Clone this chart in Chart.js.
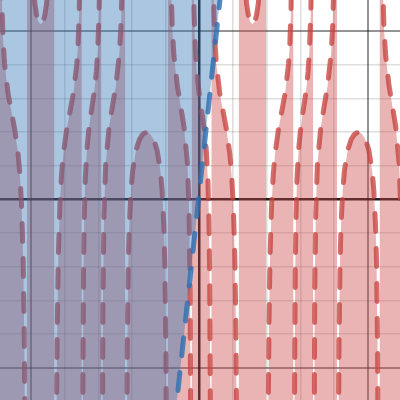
<!DOCTYPE html>
<html>
<head>
<meta charset="utf-8">
<script src="https://cdn.jsdelivr.net/npm/chart.js@4.4.1/dist/chart.umd.min.js"></script>
<style>
  html, body { margin: 0; padding: 0; background: #ffffff; }
  #wrap { width: 400px; height: 400px; position: relative; }
</style>
</head>
<body>
<div id="wrap"><canvas id="c"></canvas></div>
<script>
// Axis window (graph units) and grid ticks
const xRange = [-5.92, 5.95];
const yRange = [-5.95, 5.92];
const gridTicks = [-5, -4, -3, -2, -1, 0, 1, 2, 3, 4, 5];

// Red dashed boundary (region below it is shaded); null separates branches
const redX = [
  -5.932, -5.923, -5.903, -5.883, -5.853, -5.823, -5.783, -5.683, -5.583, -5.483, -5.383, -5.333, -5.283, -5.233, -5.203, -5.183, -5.163, -5.133, null,
  -5.123, -5.113, -5.093, -5.063, -5.023, -4.983, -4.933, -4.883, -4.833, -4.783, -4.712, -4.641, -4.591, -4.541, -4.491, -4.441, -4.401, -4.361, -4.331, -4.311, -4.303, null,
  -4.293, -4.261, -4.241, -4.221, -4.191, -4.141, -4.091, -4.041, -3.941, -3.841, -3.741, -3.641, -3.601, -3.571, -3.541, -3.521, -3.501, -3.492, null,
  -3.486, -3.471, -3.461, -3.441, -3.421, -3.391, -3.341, -3.291, -3.241, -3.191, -3.141, -3.101, -3.061, -3.021, -2.981, -2.961, -2.941, -2.921, -2.907, null,
  -2.901, -2.893, -2.883, -2.863, -2.833, -2.783, -2.683, -2.583, -2.483, -2.383, -2.333, -2.283, -2.253, -2.223, -2.200, null,
  -2.194, -2.183, -2.163, -2.143, -2.113, -2.083, -2.033, -1.983, -1.883, -1.783, -1.683, -1.571, -1.459, -1.359, -1.259, -1.159, -1.109, -1.059, -1.029, -0.999, -0.979, -0.959, -0.947, null,
  -0.941, -0.918, -0.888, -0.858, -0.808, -0.758, -0.658, -0.558, -0.458, -0.358, -0.308, -0.278, -0.258, -0.248, -0.240, null,
  -0.234, -0.22, -0.20, -0.18, -0.16, -0.12, -0.08, -0.04, 0.00, 0.05, 0.10, 0.15, 0.20, 0.25, 0.28, 0.30, 0.32, 0.33, 0.345, null,
  0.351, 0.36, 0.38, 0.40, 0.43, 0.46, 0.50, 0.60, 0.70, 0.80, 0.90, 0.95, 1.00, 1.05, 1.08, 1.10, 1.12, 1.15, null,
  1.16, 1.17, 1.19, 1.22, 1.26, 1.30, 1.35, 1.40, 1.45, 1.50, 1.571, 1.642, 1.692, 1.742, 1.792, 1.842, 1.882, 1.922, 1.952, 1.972, 1.98, null,
  1.99, 2.022, 2.042, 2.062, 2.092, 2.142, 2.192, 2.242, 2.342, 2.442, 2.542, 2.642, 2.682, 2.712, 2.742, 2.762, 2.782, 2.791, null,
  2.797, 2.812, 2.822, 2.842, 2.862, 2.892, 2.942, 2.992, 3.042, 3.092, 3.142, 3.182, 3.222, 3.262, 3.302, 3.322, 3.342, 3.362, 3.376, null,
  3.382, 3.39, 3.40, 3.42, 3.45, 3.50, 3.60, 3.70, 3.80, 3.90, 3.95, 4.00, 4.03, 4.06, 4.083, null,
  4.089, 4.10, 4.12, 4.14, 4.17, 4.20, 4.25, 4.30, 4.40, 4.50, 4.60, 4.712, 4.824, 4.924, 5.024, 5.124, 5.174, 5.224, 5.254, 5.284, 5.304, 5.324, 5.336, null,
  5.342, 5.365, 5.395, 5.425, 5.475, 5.525, 5.625, 5.725, 5.825, 5.925, 5.975, 6.005, 6.025, 6.035, 6.043
];
const redY = [
  40, 22.1, 10.1, 7.21, 5.49, 4.65, 4.02, 3.16, 2.62, 2.08, 1.35, 0.78, -0.09, -1.75, -3.73, -6.17, -11.1, -40, null,
  60, 51, 21, 12.42, 8.86, 7.32, 6.33, 5.79, 5.47, 5.28, 5.20, 5.28, 5.47, 5.79, 6.33, 7.32, 8.86, 12.42, 21, 51, 60, null,
  -40, -11.1, -6.17, -3.73, -1.75, -0.09, 0.78, 1.35, 2.08, 2.62, 3.16, 4.02, 4.65, 5.49, 7.21, 10.1, 22.1, 40, null,
  -40, -10.5, -5.75, -2.11, -0.60, 0.57, 1.48, 2.01, 2.40, 2.74, 3.08, 3.40, 3.80, 4.40, 5.51, 6.60, 8.86, 16.3, 40, null,
  -40, -17.2, -7.92, -2.75, -0.37, 1.06, 2.15, 2.77, 3.37, 4.27, 5.08, 6.83, 9.32, 18.2, 40, null,
  -40, -24, -8.35, -4.32, -1.87, -0.77, 0.27, 0.85, 1.47, 1.78, 1.94, 2.00, 1.94, 1.78, 1.47, 0.85, 0.27, -0.77, -1.87, -4.32, -8.35, -24, -40, null,
  40, 18.2, 9.32, 6.83, 5.08, 4.27, 3.37, 2.77, 2.15, 1.06, -0.37, -2.75, -7.92, -17.2, -40, null,
  40, 16.3, 8.86, 6.60, 5.51, 4.40, 3.80, 3.40, 3.08, 2.74, 2.40, 2.01, 1.48, 0.57, -0.60, -2.11, -5.75, -10.5, -40, null,
  40, 22.1, 10.1, 7.21, 5.49, 4.65, 4.02, 3.16, 2.62, 2.08, 1.35, 0.78, -0.09, -1.75, -3.73, -6.17, -11.1, -40, null,
  60, 51, 21, 12.42, 8.86, 7.32, 6.33, 5.79, 5.47, 5.28, 5.20, 5.28, 5.47, 5.79, 6.33, 7.32, 8.86, 12.42, 21, 51, 60, null,
  -40, -11.1, -6.17, -3.73, -1.75, -0.09, 0.78, 1.35, 2.08, 2.62, 3.16, 4.02, 4.65, 5.49, 7.21, 10.1, 22.1, 40, null,
  -40, -10.5, -5.75, -2.11, -0.60, 0.57, 1.48, 2.01, 2.40, 2.74, 3.08, 3.40, 3.80, 4.40, 5.51, 6.60, 8.86, 16.3, 40, null,
  -40, -17.2, -7.92, -2.75, -0.37, 1.06, 2.15, 2.77, 3.37, 4.27, 5.08, 6.83, 9.32, 18.2, 40, null,
  -40, -24, -8.35, -4.32, -1.87, -0.77, 0.27, 0.85, 1.47, 1.78, 1.94, 2.00, 1.94, 1.78, 1.47, 0.85, 0.27, -0.77, -1.87, -4.32, -8.35, -24, -40, null,
  40, 18.2, 9.32, 6.83, 5.08, 4.27, 3.37, 2.77, 2.15, 1.06, -0.37, -2.75, -7.92, -17.2, -40
];

// Blue dashed boundary (steep line), region to its upper-left is shaded
const blueLineX = [-0.75, 0.68];
const blueLineY = [-6.70, 6.60];
const blueFillX = [-7, -0.75, 0.68, 7];
const blueFillY = [-6.70, -6.70, 6.60, 6.60];

function pts(xs, ys) {
  const out = [];
  for (let i = 0; i < xs.length; i++) {
    if (xs[i] === null || ys[i] === null) {
      out.push({ x: out.length ? out[out.length - 1].x : 0, y: null });
    } else {
      out.push({ x: xs[i], y: ys[i] });
    }
  }
  return out;
}

const RED = 'rgba(199,68,64,0.78)';
const RED_FILL = 'rgba(199,68,64,0.4)';
const BLUE = 'rgba(45,112,179,0.82)';
const BLUE_FILL = 'rgba(45,112,179,0.4)';

function gridColor(ctx) {
  const v = ctx.tick ? ctx.tick.value : NaN;
  if (v === 0) return 'rgba(0,0,0,0.88)';
  if (Math.abs(v) === 5) return 'rgba(0,0,0,0.42)';
  return 'rgba(0,0,0,0.13)';
}
function gridWidth(ctx) {
  const v = ctx.tick ? ctx.tick.value : NaN;
  if (v === 0) return 2.5;
  if (Math.abs(v) === 5) return 2;
  return 1.6;
}

function axis(range) {
  return {
    type: 'linear',
    min: range[0],
    max: range[1],
    display: true,
    afterBuildTicks: (scale) => { scale.ticks = gridTicks.map(v => ({ value: v })); },
    ticks: { display: false },
    grid: { drawTicks: false, color: gridColor, lineWidth: gridWidth },
    border: { display: false }
  };
}

new Chart(document.getElementById('c'), {
  type: 'line',
  data: {
    datasets: [
      {
        label: 'blue boundary',
        data: pts(blueLineX, blueLineY),
        borderColor: BLUE,
        borderWidth: 5,
        borderDash: [18, 17],
        borderCapStyle: 'round',
        pointRadius: 0,
        fill: false,
        order: 0
      },
      {
        label: 'blue region',
        data: pts(blueFillX, blueFillY),
        borderWidth: 0,
        borderColor: 'rgba(0,0,0,0)',
        backgroundColor: BLUE_FILL,
        pointRadius: 0,
        fill: 'end',
        order: 1
      },
      {
        label: 'red region',
        data: pts(redX, redY),
        borderColor: RED,
        backgroundColor: RED_FILL,
        borderWidth: 5,
        borderDash: [18, 17],
        borderCapStyle: 'round',
        borderJoinStyle: 'round',
        pointRadius: 0,
        spanGaps: false,
        fill: 'start',
        order: 2
      }
    ]
  },
  options: {
    responsive: true,
    maintainAspectRatio: false,
    animation: false,
    layout: { padding: 0 },
    plugins: { legend: { display: false }, tooltip: { enabled: false } },
    scales: { x: axis(xRange), y: axis(yRange) }
  }
});
</script>
</body>
</html>
